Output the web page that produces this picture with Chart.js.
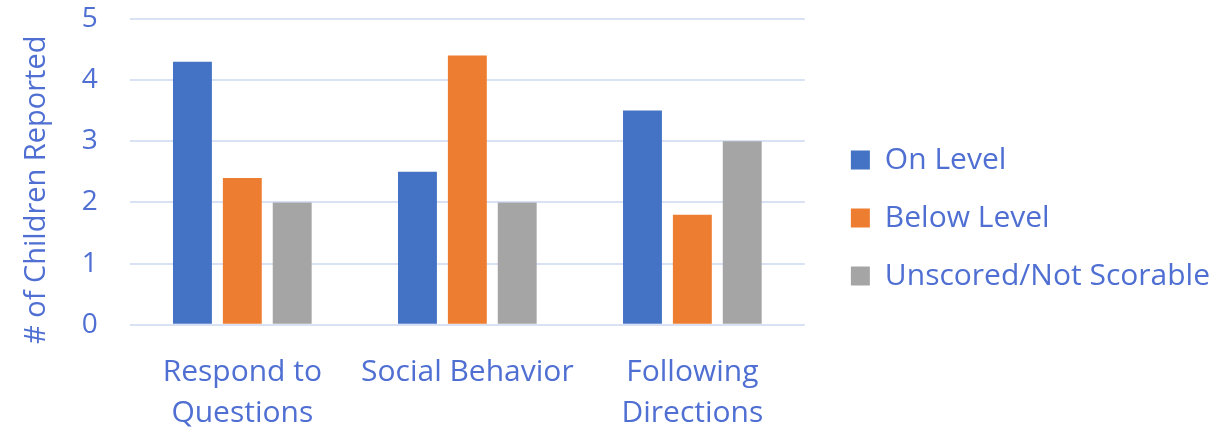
<!DOCTYPE html>
<html>
<head>
<meta charset="utf-8">
<script src="https://cdn.jsdelivr.net/npm/chart.js@4"></script>
<style>
  html, body { margin: 0; padding: 0; background: #fff; overflow: hidden; }
  canvas { display: block; }
</style>
</head>
<body>
<canvas id="myBarChart" width="1231" height="428" style="width:1231px;height:428px"></canvas>
<script>
const categorias = [["Respond to", "Questions"], "Social Behavior", ["Following", "Directions"]];
const onLevel = [4.3, 2.5, 3.5];
const belowLevel = [2.4, 4.4, 1.8];
const unscored = [2, 2, 3];
const yTicks = [0, 1, 2, 3, 4, 5];

const textColor = "#4F6FD2";
const fontFamily = "'Open Sans', 'Noto Sans', sans-serif";

// Espacio extra a la izquierda de la leyenda y título del eje Y algo más abajo
const ajustes = {
  id: "ajustes",
  afterInit(chart) {
    const legend = chart.legend;
    if (!legend) return;
    const fit = legend.fit.bind(legend);
    const draw = legend.draw.bind(legend);
    legend.fit = function () { fit(); this.width += 18; };
    legend.draw = function () {
      chart.ctx.save();
      chart.ctx.translate(18, -14);
      draw();
      chart.ctx.restore();
    };
  },
  beforeDraw(chart) {
    const s = chart.scales.y;
    if (s._movido) return;
    const drawTitle = s.drawTitle.bind(s);
    s.drawTitle = function () {
      chart.ctx.save();
      chart.ctx.translate(0, 18);
      drawTitle();
      chart.ctx.restore();
    };
    s._movido = true;
  },
};

function dibujar() {
  const ctx = document.getElementById("myBarChart").getContext("2d");
  new Chart(ctx, {
    type: "bar",
    data: {
      labels: categorias,
      datasets: [
        { label: "On Level", data: onLevel, backgroundColor: "#4472C4" },
        { label: "Below Level", data: belowLevel, backgroundColor: "#ED7D31" },
        { label: "Unscored/Not Scorable", data: unscored, backgroundColor: "#A5A5A5" },
      ],
    },
    plugins: [ajustes],
    options: {
      responsive: false,
      devicePixelRatio: 1,
      animation: false,
      datasets: { bar: { categoryPercentage: 0.665, barPercentage: 0.78 } },
      layout: { padding: { left: 16, top: 3, right: 11, bottom: -33 } },
      plugins: {
        legend: {
          position: "right",
          maxWidth: 440,
          labels: {
            color: textColor,
            font: { family: fontFamily, size: 30 },
            boxWidth: 19,
            boxHeight: 19,
            padding: 28,
          },
        },
        tooltip: { enabled: false },
      },
      scales: {
        x: {
          grid: { display: false, drawTicks: false },
          border: { display: false },
          ticks: {
            color: textColor,
            font: { family: fontFamily, size: 30, lineHeight: 1.37 },
            maxRotation: 0,
            padding: 27,
          },
        },
        y: {
          min: 0,
          max: 5,
          afterBuildTicks: (axis) => { axis.ticks = yTicks.map((v) => ({ value: v })); },
          grid: {
            color: "#D9E1F4",
            lineWidth: 2,
            drawTicks: true,
            tickLength: 30,
            tickColor: "rgba(0,0,0,0)",
          },
          border: { display: false },
          ticks: {
            color: textColor,
            font: { family: fontFamily, size: 28 },
            padding: 2,
          },
          title: {
            display: true,
            text: "# of Children Reported",
            color: textColor,
            font: { family: fontFamily, size: 29 },
            padding: { top: 3, bottom: 26 },
          },
        },
      },
    },
  });
}

document.addEventListener("DOMContentLoaded", function () {
  document.fonts.load("30px 'Open Sans'").then(dibujar, dibujar);
});
</script>
</body>
</html>
